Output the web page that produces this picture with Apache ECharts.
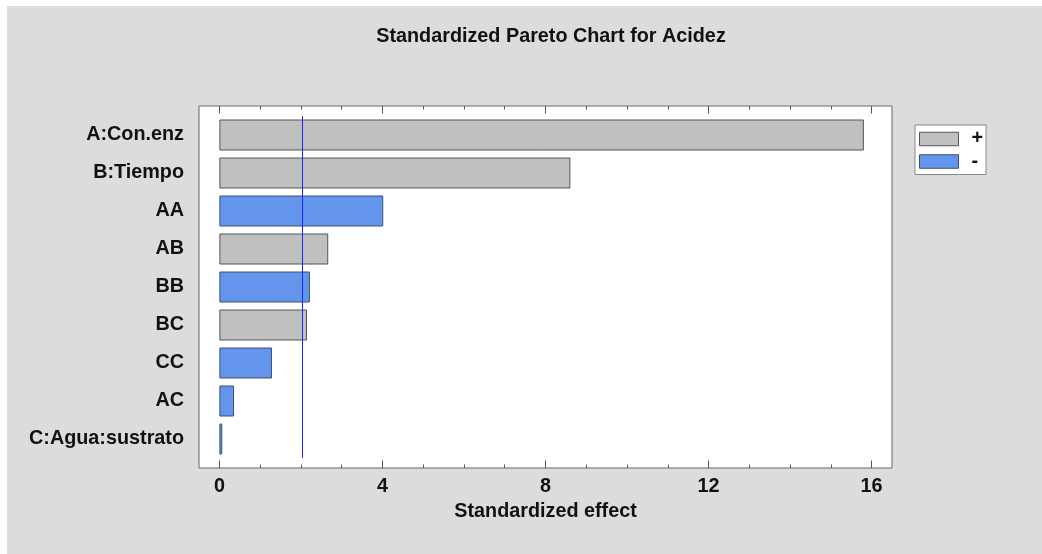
<!DOCTYPE html>
<html>
<head>
<meta charset="utf-8">
<script src="https://cdn.jsdelivr.net/npm/echarts@6/dist/echarts.min.js"></script>
<style>
  html, body { margin: 0; padding: 0; background: #fff; }
  #chart { width: 1042px; height: 554px; }
</style>
</head>
<body>
<div id="chart"></div>
<script>
// Effects ordered from largest to smallest standardized magnitude
const categories = ['A:Con.enz', 'B:Tiempo', 'AA', 'AB', 'BB', 'BC', 'CC', 'AC', 'C:Agua:sustrato'];
// Positive effects ("+") and negative effects ("-"), shown as absolute values
const plusEffects  = [15.81, 8.61, null, 2.67, null, 2.15, null, null, null];
const minusEffects = [null, null, 4.02, null, 2.22, null, 1.29, 0.36, 0.07];
// Significance threshold line
const criticalValue = 2.04;
// Axis ticks
const majorTicks = [0, 4, 8, 12, 16];
const minorTicks = [0, 1, 2, 3, 4, 5, 6, 7, 8, 9, 10, 11, 12, 13, 14, 15, 16];

const FONT = 'Liberation Sans, Arial, sans-serif';
const FS = 19.8;
const X_MIN = -0.5, X_MAX = 16.5;
const PLOT = { left: 199, top: 106, width: 693, height: 362 };

function tickAxis(position, values, len, withLabels) {
  return {
    type: 'value', gridIndex: 0, position: position,
    min: X_MIN, max: X_MAX,
    axisLine: { show: false },
    splitLine: { show: false },
    axisTick: { show: true, inside: true, length: len, customValues: values,
                lineStyle: { color: '#555', width: 1 } },
    axisLabel: withLabels ? {
      show: true, customValues: values, margin: 9,
      fontFamily: FONT, fontWeight: 'bold', fontSize: FS, color: '#111'
    } : { show: false },
    name: withLabels ? 'Standardized effect' : '',
    nameLocation: 'middle', nameGap: 33,
    nameTextStyle: { fontFamily: FONT, fontWeight: 'bold', fontSize: FS, color: '#111' }
  };
}

const chart = echarts.init(document.getElementById('chart'), null, { renderer: 'canvas' });
chart.setOption({
  backgroundColor: '#fff',
  animation: false,
  graphic: [{
    type: 'rect', z: -10, silent: true,
    shape: { x: 7, y: 6, width: 1035, height: 548 },
    style: { fill: '#dcdcdc' }
  }],
  title: {
    text: 'Standardized Pareto Chart for Acidez',
    left: 546, top: 22, textAlign: 'center',
    textStyle: { fontFamily: FONT, fontWeight: 'bold', fontSize: FS, color: '#111' }
  },
  legend: {
    orient: 'vertical', left: 915, top: 125,
    backgroundColor: '#fff', borderColor: '#888', borderWidth: 1,
    padding: [4, 3, 3, 4],
    itemWidth: 39, itemHeight: 13.5, itemGap: 2.5,
    icon: 'rect',
    itemStyle: { borderWidth: 1 },
    textStyle: { fontFamily: FONT, fontWeight: 'bold', fontSize: FS,
                 color: '#111', padding: [0, 0, 0, 8] },
    data: ['+', '-']
  },
  grid: [
    { left: PLOT.left, top: PLOT.top, width: PLOT.width, height: PLOT.height,
      show: true, backgroundColor: '#fff', borderColor: '#666', borderWidth: 1 },
    { left: PLOT.left, top: 116, width: PLOT.width, height: 342 }
  ],
  xAxis: [
    tickAxis('bottom', majorTicks, 7.5, true),
    tickAxis('bottom', minorTicks, 3.5, false),
    tickAxis('top', majorTicks, 7.5, false),
    tickAxis('top', minorTicks, 3.5, false),
    { type: 'value', gridIndex: 1, min: X_MIN, max: X_MAX, show: false }
  ],
  yAxis: [
    { type: 'value', gridIndex: 0, show: false },
    {
      type: 'category', gridIndex: 1, inverse: true, data: categories,
      axisLine: { show: false }, axisTick: { show: false },
      axisLabel: { margin: 15, fontFamily: FONT, fontWeight: 'bold', fontSize: FS, color: '#111' }
    }
  ],
  series: [
    {
      name: '+', type: 'bar', xAxisIndex: 4, yAxisIndex: 1,
      data: plusEffects, barWidth: 31, barGap: '-100%',
      itemStyle: { color: '#c0c0c0', borderColor: '#555', borderWidth: 1 }
    },
    {
      name: '-', type: 'bar', xAxisIndex: 4, yAxisIndex: 1,
      data: minusEffects, barWidth: 31, barGap: '-100%',
      itemStyle: { color: '#6495ed', borderColor: '#3c4f78', borderWidth: 1 },
      markLine: {
        silent: true, symbol: 'none', label: { show: false },
        lineStyle: { color: '#2020ff', width: 1, type: 'solid' },
        data: [{ xAxis: criticalValue }]
      }
    }
  ]
});
</script>
</body>
</html>
